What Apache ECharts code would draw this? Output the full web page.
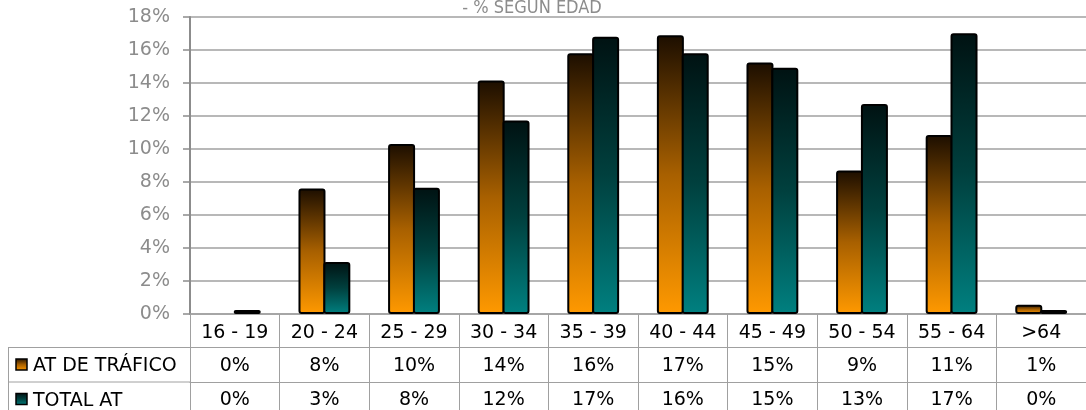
<!DOCTYPE html>
<html>
<head>
<meta charset="utf-8">
<script src="https://cdn.jsdelivr.net/npm/echarts@6/dist/echarts.min.js"></script>
<style>
html,body{margin:0;padding:0;background:#fff;}
#chart{width:1086px;height:410px;}
</style>
</head>
<body>
<div id="chart"></div>
<script>
const categories = ['16 - 19','20 - 24','25 - 29','30 - 34','35 - 39','40 - 44','45 - 49','50 - 54','55 - 64','>64'];
const atTrafico = [0, 7.6, 10.3, 14.15, 15.8, 16.9, 15.25, 8.7, 10.85, 0.56];
const totalAt = [0.24, 3.15, 7.65, 11.72, 16.8, 15.8, 14.92, 12.72, 17.02, 0.24];
const seriesNames = ['AT DE TRÁFICO', 'TOTAL AT'];
const yTicks = {min: 0, max: 18, interval: 2};
const titleText = '- % SEGUN EDAD';

const FONT = 'DejaVu Sans';
const GRID = '#a0a0a0';
const chart = echarts.init(document.getElementById('chart'));

const gradAT = new echarts.graphic.LinearGradient(0, 0, 0, 1, [
  {offset: 0, color: '#1c0e00'},
  {offset: 0.5, color: '#a86000'},
  {offset: 1, color: '#ff9900'}
]);
const gradTot = new echarts.graphic.LinearGradient(0, 0, 0, 1, [
  {offset: 0, color: '#001212'},
  {offset: 0.5, color: '#00403e'},
  {offset: 1, color: '#008080'}
]);

function pct(v){ return Math.round(v) + '%'; }
function barData(arr){
  return arr.map(v => v === 0 ? {value: v, itemStyle: {borderWidth: 0}} : v);
}

const tableAxisBase = {
  type: 'category',
  data: categories,
  position: 'bottom',
  axisLine: {show: true, lineStyle: {color: GRID, width: 1}},
  axisTick: {show: false},
  axisLabel: {fontFamily: FONT, fontSize: 19, color: '#000', margin: 9}
};

const option = {
  animation: false,
  backgroundColor: '#fff',
  grid: {left: 190, top: 17, width: 911, height: 297},
  xAxis: [
    {
      type: 'category',
      data: categories,
      position: 'bottom',
      axisLine: {show: true, lineStyle: {color: GRID, width: 1.5}},
      axisTick: {show: true, length: 100, lineStyle: {color: GRID, width: 1}},
      axisLabel: {fontFamily: FONT, fontSize: 19, color: '#000', margin: 10}
    },
    Object.assign({}, tableAxisBase, {
      offset: 33.5,
      axisLabel: Object.assign({}, tableAxisBase.axisLabel, {formatter: (v, i) => pct(atTrafico[i])})
    }),
    Object.assign({}, tableAxisBase, {
      offset: 68,
      axisLabel: Object.assign({}, tableAxisBase.axisLabel, {formatter: (v, i) => pct(totalAt[i])})
    })
  ],
  yAxis: {
    type: 'value',
    min: yTicks.min, max: yTicks.max, interval: yTicks.interval,
    axisLine: {show: true, lineStyle: {color: '#8c8c8c', width: 2}},
    axisTick: {show: true, length: 7, lineStyle: {color: '#8c8c8c', width: 1.5}},
    axisLabel: {formatter: '{value}%', fontFamily: FONT, fontSize: 19, color: '#8c8c8c', margin: 20},
    splitLine: {show: true, lineStyle: {color: GRID, width: 1.5}}
  },
  series: [
    {
      name: seriesNames[0], type: 'bar', xAxisIndex: 0,
      data: barData(atTrafico),
      barWidth: 27, barGap: '-8%',
      itemStyle: {color: gradAT, borderColor: '#000', borderWidth: 2, borderRadius: 2}
    },
    {
      name: seriesNames[1], type: 'bar', xAxisIndex: 0,
      data: barData(totalAt),
      barWidth: 27, barGap: '-8%',
      itemStyle: {color: gradTot, borderColor: '#000', borderWidth: 2, borderRadius: 2}
    }
  ],
  graphic: [
    {type: 'text', x: 532, y: 8, style: {text: titleText, fontFamily: 'DejaVu Sans Condensed', fontSize: 18, fill: '#8c8c8c', textAlign: 'center', textVerticalAlign: 'middle'}},
    {type: 'line', shape: {x1: 8, y1: 347.5, x2: 190, y2: 347.5}, style: {stroke: GRID, lineWidth: 1}},
    {type: 'line', shape: {x1: 8, y1: 382, x2: 190, y2: 382}, style: {stroke: GRID, lineWidth: 1}},
    {type: 'line', shape: {x1: 8.5, y1: 347, x2: 8.5, y2: 410}, style: {stroke: GRID, lineWidth: 1}},
    {type: 'rect', shape: {x: 16, y: 359, width: 11, height: 11}, style: {fill: gradAT, stroke: '#000', lineWidth: 1.5}},
    {type: 'text', x: 33, y: 366, style: {text: seriesNames[0], fontFamily: FONT, fontSize: 19, fill: '#000', textVerticalAlign: 'middle'}},
    {type: 'rect', shape: {x: 16, y: 393.5, width: 11, height: 11}, style: {fill: gradTot, stroke: '#000', lineWidth: 1.5}},
    {type: 'text', x: 33, y: 401, style: {text: seriesNames[1], fontFamily: FONT, fontSize: 19, fill: '#000', textVerticalAlign: 'middle'}}
  ]
};
chart.setOption(option);
</script>
</body>
</html>
